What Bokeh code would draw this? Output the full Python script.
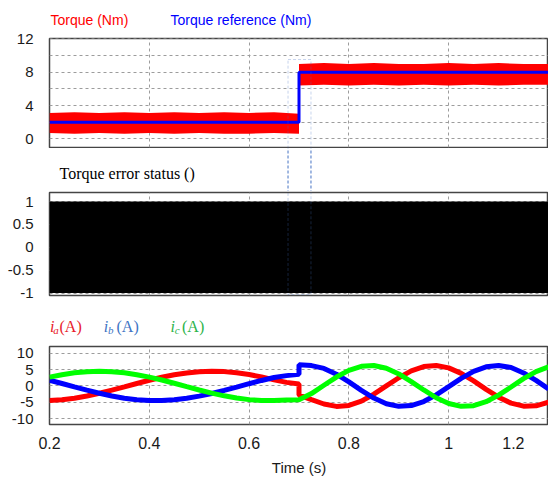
from bokeh.plotting import figure
from bokeh.models import Range1d, FixedTicker, BoxAnnotation
from bokeh.layouts import column
from bokeh.core.properties import value
from bokeh.embed import file_html
from bokeh.resources import INLINE

# ---------------- data ----------------
torque_time = [0.2, 0.25, 0.3, 0.35, 0.4, 0.45, 0.5, 0.55, 0.6, 0.65, 0.7,
               0.7, 0.75, 0.8, 0.85, 0.9, 0.95, 1.0, 1.05, 1.1, 1.15, 1.2]
torque_low = [0.7, 0.6, 0.7, 0.6, 0.7, 0.6, 0.7, 0.6, 0.6, 0.7, 0.6,
              6.4, 6.5, 6.4, 6.5, 6.4, 6.5, 6.4, 6.5, 6.4, 6.5, 6.5]
torque_high = [3.1, 3.2, 3.1, 3.2, 3.1, 3.2, 3.1, 3.2, 3.1, 3.2, 3.0,
               9.0, 9.1, 9.0, 9.1, 9.0, 9.0, 9.1, 9.0, 9.1, 9.0, 9.0]
ref_time = [0.2, 0.7, 0.7, 1.2]
torque_ref = [2, 2, 8, 8]

status_time = [0.2, 1.2]
status_min = [-1, -1]
status_max = [1, 1]

cur_time = [0.2, 0.225, 0.25, 0.275, 0.3, 0.325, 0.35, 0.375, 0.4, 0.425, 0.45,
            0.475, 0.5, 0.525, 0.55, 0.575, 0.6, 0.625, 0.65, 0.675, 0.7,
            0.7, 0.725, 0.75, 0.775, 0.8, 0.825, 0.85, 0.875, 0.9, 0.925, 0.95,
            0.975, 1.0, 1.025, 1.05, 1.075, 1.1, 1.125, 1.15, 1.175, 1.2]
ia = [-4.47, -4.22, -3.75, -3.08, -2.25, -1.30, -0.28, 0.76, 1.76, 2.66, 3.42,
      4.00, 4.36, 4.50, 4.40, 4.06, 3.50, 2.77, 1.88, 1.10, 0.60,
      -2.80, -4.20, -5.54, -6.28, -5.97, -4.64, -2.53, 0.00, 2.53, 4.64, 5.96,
      6.28, 5.54, 3.87, 1.54, -1.04, -3.44, -5.27, -6.21, -6.11, -4.98]
ib = [1.76, 0.76, -0.28, -1.30, -2.25, -3.08, -3.75, -4.22, -4.47, -4.47, -4.24,
      -3.79, -3.13, -2.31, -1.38, -0.35, 0.69, 1.69, 2.60, 3.17, 3.60,
      6.50, 6.25, 5.39, 3.62, 1.24, -1.35, -3.70, -5.45, -6.26, -6.02, -4.78,
      -2.73, -0.21, 2.34, 4.48, 5.88, 6.30, 5.65, 3.99, 1.69, -0.88]
ic = [2.71, 3.46, 4.03, 4.38, 4.50, 4.38, 4.03, 3.46, 2.71, 1.82, 0.83,
      -0.21, -1.23, -2.19, -3.03, -3.71, -4.20, -4.46, -4.48, -4.30, -4.20,
      -4.20, -2.34, 0.21, 2.73, 4.78, 6.02, 6.26, 5.44, 3.70, 1.34, -1.24,
      -3.62, -5.39, -6.25, -6.05, -4.84, -2.82, -0.32, 2.24, 4.42, 5.85]

x_ticks = [0.2, 0.4, 0.6, 0.8, 1.0, 1.2]
x_tick_labels = ["0.2", "0.4", "0.6", "0.8", "1", "1.2\u2002\u2002\u2002"]
x_grid = [0.4, 0.6, 0.8, 1.0]
torque_ticks = [0, 4, 8, 12]
torque_tick_labels = ["0", "4", "8", "12"]
torque_grid = [0, 2, 4, 6, 8, 10, 12]
status_ticks = [-1, -0.5, 0, 0.5, 1]
status_tick_labels = ["-1", "-0.5", "0", "0.5", "1"]
cur_ticks = [-10, -5, 0, 5, 10]
cur_tick_labels = ["-10", "-5", "0", "5", "10"]

# ---------------- layout ----------------
W = 548
LEFT = 49
X0, X1 = 0.2, 1.2
PXU = (W - LEFT) / (X1 - X0)
GRID_COLOR = "#9c9c9c"
SANS = "Liberation Sans"
SERIF = "Liberation Serif"
BOX_COLOR = "#4472c4"
BOX_X = (0.678, 0.724)


def px2x(px):
    return X0 + (px - LEFT) / PXU


def make_panel(h, top, bottom, yr, xaxis):
    p = figure(width=W, height=h, x_range=Range1d(X0, X1), y_range=Range1d(*yr),
               output_backend="svg", toolbar_location=None,
               x_axis_location="below" if xaxis else None,
               min_border_left=LEFT, min_border_right=0,
               min_border_top=top, min_border_bottom=bottom,
               background_fill_color="white", border_fill_color="white")
    p.outline_line_color = "#454545"
    p.outline_line_width = 1.5
    for g in p.xgrid:
        g.ticker = FixedTicker(ticks=x_grid)
        g.grid_line_color = GRID_COLOR
        g.grid_line_dash = "3 3"
    for ax in p.yaxis:
        ax.axis_line_color = None
        ax.major_tick_line_color = None
        ax.minor_tick_line_color = None
        ax.major_tick_out = 0
        ax.major_tick_in = 0
        ax.major_label_standoff = 16
        ax.major_label_text_font = SANS
        ax.major_label_text_font_size = "15px"
        ax.major_label_text_color = "#1a1a1a"
    return p


def set_y(p, ticks, labels, grid):
    p.yaxis.ticker = FixedTicker(ticks=ticks)
    p.yaxis.major_label_overrides = dict(zip(ticks, labels))
    for g in p.ygrid:
        g.ticker = FixedTicker(ticks=grid)
        g.grid_line_color = GRID_COLOR
        g.grid_line_dash = "3 3"


def make_strip(h):
    p = figure(width=W, height=h, x_range=Range1d(X0, X1), y_range=Range1d(0, h),
               output_backend="svg", toolbar_location=None,
               x_axis_location=None, y_axis_location=None,
               min_border_left=LEFT, min_border_right=0,
               min_border_top=0, min_border_bottom=0,
               background_fill_color="white", border_fill_color="white")
    p.outline_line_color = None
    p.grid.grid_line_color = None
    return p


def txt(p, h, y0, px, py, text, color, font, size, style="normal"):
    p.text(x=[px2x(px)], y=[h - (py - y0)], text=[text], text_color=color,
           text_font=value(font), text_font_size=value(f"{size}px"),
           text_font_style=style, text_baseline="middle", text_align="left")


# ---- row heights (page y) ----
HT1 = 29                      # 0..29
HP1, TP1, BP1 = 119, 9, 1     # 29..148, frame 38..147
HT2 = 43                      # 148..191
HP2, TP2, BP2 = 112, 1, 8     # 191..303, frame 192..295
HT3 = 38                      # 303..341
HP3, TP3, BP3 = 137, 5, 47    # 341..478, frame 346..431

# ---- title strip 1 ----
t1 = make_strip(HT1)
txt(t1, HT1, 0, 50, 19.5, "Torque (Nm)", "#ff0000", SANS, 14)
txt(t1, HT1, 0, 170, 19.5, "Torque reference (Nm)", "#0000ff", SANS, 14)

# ---- panel 1: torque ----
p1 = make_panel(HP1, TP1, BP1, (-1.05, 12.06), False)
set_y(p1, torque_ticks, torque_tick_labels, torque_grid)
p1.varea(x=torque_time, y1=torque_low, y2=torque_high, fill_color="#ff0000")
p1.line(x=ref_time, y=torque_ref, line_color="#0000ff", line_width=3)
p1.add_layout(BoxAnnotation(left=BOX_X[0], right=BOX_X[1], top=9.53, bottom=-6,
                            fill_alpha=0, line_color=BOX_COLOR, line_dash="3 2",
                            line_width=1))

# ---- title strip 2 ----
y0_t2 = HT1 + HP1
t2 = make_strip(HT2)
txt(t2, HT2, y0_t2, 59, 173.3, "Torque error status ()", "black", SERIF, 16)
t2.segment(x0=[BOX_X[0], BOX_X[1]], y0=[-2, -2], x1=[BOX_X[0], BOX_X[1]],
           y1=[HT2 + 2, HT2 + 2], line_color=BOX_COLOR, line_dash="3 2", line_width=1)

# ---- panel 2: torque error status ----
p2 = make_panel(HP2, TP2, BP2, (-1.054, 1.197), False)
set_y(p2, status_ticks, status_tick_labels, status_ticks)
p2.varea(x=status_time, y1=status_min, y2=status_max, fill_color="black")
p2.add_layout(BoxAnnotation(left=BOX_X[0], right=BOX_X[1], top=4, bottom=-1.035,
                            fill_alpha=0, line_color=BOX_COLOR, line_dash="3 2",
                            line_width=1))

# ---- title strip 3 (current legend) ----
y0_t3 = HT1 + HP1 + HT2 + HP2
t3 = make_strip(HT3)
for (xi, xs, xA, sub, col) in [(49.5, 52.7, 59.0, "a", "#e8202a"),
                               (103.3, 107.5, 116.0, "b", "#3e74c4"),
                               (170.0, 174.3, 181.5, "c", "#2cb34a")]:
    txt(t3, HT3, y0_t3, xi, 325.5, "i", col, SERIF, 16, "italic")
    txt(t3, HT3, y0_t3, xs, 329.5, sub, col, SERIF, 11, "italic")
    txt(t3, HT3, y0_t3, xA, 325.5, "(A)", col, SERIF, 16)

# ---- panel 3: currents ----
p3 = make_panel(HP3, TP3, BP3, (-11.83, 12.11), True)
set_y(p3, cur_ticks, cur_tick_labels, cur_ticks)
xa = p3.xaxis[0]
xa.ticker = FixedTicker(ticks=x_ticks)
xa.major_label_overrides = dict(zip(x_ticks, x_tick_labels))
xa.axis_line_color = None
xa.major_tick_line_color = None
xa.minor_tick_line_color = None
xa.major_tick_out = 0
xa.major_tick_in = 0
xa.major_label_standoff = 10
xa.major_label_text_font = SANS
xa.major_label_text_font_size = "16px"
xa.major_label_text_color = "#1a1a1a"
xa.axis_label = "Time (s)"
xa.axis_label_text_font = SANS
xa.axis_label_text_font_size = "15px"
xa.axis_label_text_font_style = "normal"
xa.axis_label_text_color = "#1a1a1a"
xa.axis_label_standoff = 4

p3.line(x=cur_time, y=ia, line_color="#ff0000", line_width=5)
p3.line(x=cur_time, y=ib, line_color="#0000ff", line_width=5)
p3.line(x=cur_time, y=ic, line_color="#00ff00", line_width=5)

layout = column(t1, p1, t2, p2, t3, p3, spacing=0)
open("out.html", "w").write(file_html(layout, INLINE))
